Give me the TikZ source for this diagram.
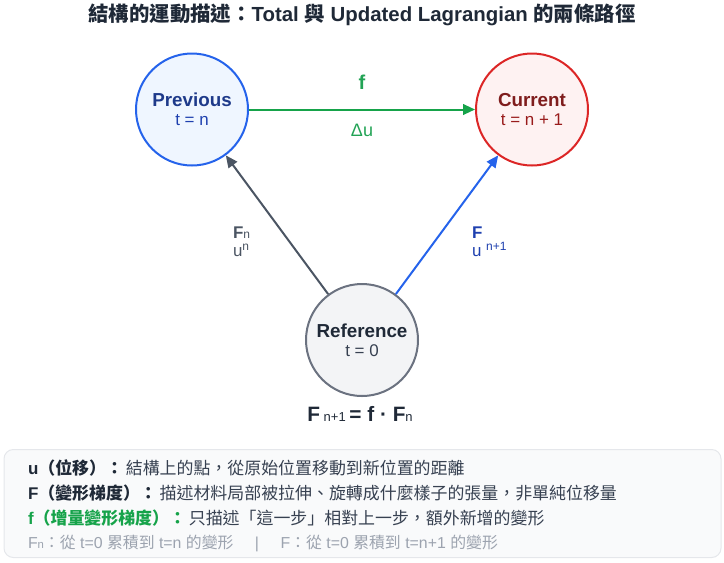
\documentclass[tikz,border=0pt]{standalone}
\usepackage{fontspec}
\setmainfont{Liberation Sans}
\newfontfamily\cjk{Noto Sans CJK TC}
\usetikzlibrary{arrows.meta}
\newcommand\zh[1]{{\cjk #1}}
\newcommand\fsz[1]{\fontsize{#1}{#1}\selectfont}
\definecolor{titlec}{HTML}{1F2937}
\definecolor{bodyc}{HTML}{374151}
\definecolor{prevfill}{HTML}{EFF6FF}
\definecolor{prevline}{HTML}{2563EB}
\definecolor{prevtext}{HTML}{1E3A8A}
\definecolor{prevsub}{HTML}{1E40AF}
\definecolor{curfill}{HTML}{FEF2F2}
\definecolor{curline}{HTML}{DC2626}
\definecolor{curtext}{HTML}{7F1D1D}
\definecolor{cursub}{HTML}{991B1B}
\definecolor{reffill}{HTML}{F3F4F6}
\definecolor{refline}{HTML}{6B7280}
\definecolor{grayarrow}{HTML}{4B5563}
\definecolor{greenline}{HTML}{16A34A}
\definecolor{greenlab}{HTML}{22A355}
\definecolor{bluelab}{HTML}{1E40AF}
\definecolor{legfill}{HTML}{F9FAFB}
\definecolor{legline}{HTML}{E5E7EB}
\definecolor{lightgray}{HTML}{9CA3AF}
\tikzset{
  circ/.style={circle, minimum size=84pt, inner sep=0pt, line width=1.5pt, align=center},
  arr/.style={line width=1.5pt, -{Triangle[length=9pt,width=8pt]}},
  txt/.style={inner sep=0pt, outer sep=0pt},
  legendbox/.style={draw=legline, fill=legfill, line width=0.75pt, rounded corners=7pt, inner sep=0pt}
}
\begin{document}
\begin{tikzpicture}[x=0.75pt, y=-0.75pt]
\useasboundingbox (0,0) rectangle (724,562);
% title
\node[txt, anchor=base, text=titlec] (title) at (362,21.5)
  {\bfseries\fsz{15.3}\zh{結構的運動描述：}Total \zh{與} Updated Lagrangian \zh{的兩條路徑}};
% circles
\node[circ, draw=prevline, fill=prevfill] (prev) at (192,109.5)
  {{\color{prevtext}\bfseries\fsz{14.1}Previous}\\[2.5pt]{\color{prevsub}\fsz{12.7}t = n}};
\node[circ, draw=curline, fill=curfill] (cur) at (532,109.5)
  {{\color{curtext}\bfseries\fsz{14.1}Current}\\[2.5pt]{\color{cursub}\fsz{12.7}t = n + 1}};
\node[circ, draw=refline, fill=reffill] (ref) at (362,340)
  {{\color{titlec}\bfseries\fsz{14.1}Reference}\\[2.5pt]{\color{bodyc}\fsz{12.7}t = 0}};
% arrows
\draw[arr, greenline] (prev) -- (cur);
\draw[arr, grayarrow] (ref) -- (prev);
\draw[arr, prevline] (ref) -- (cur);
% arrow labels
\node[txt, text=greenlab] (flabel) at (362,82) {\bfseries\fsz{15}f};
\node[txt, text=greenlab] (dulabel) at (362,130) {\fsz{13.5}Δu};
\node[txt, anchor=base west, text=grayarrow] (fnlabel) at (233,238)
  {{\bfseries\fsz{12.7}F}{\fsz{9}n}};
\node[txt, anchor=base west, text=grayarrow] (unlabel) at (233,256)
  {{\fsz{12.7}u}\raisebox{4.5pt}{\fsz{9}n}};
\node[txt, anchor=base west, text=bluelab] (Flabel) at (472,238)
  {\bfseries\fsz{12.7}F};
\node[txt, anchor=base west, text=bluelab] (ulabel) at (472,256)
  {\fsz{12.7}u \raisebox{4.5pt}{\fsz{9}n+1}};
% formula
\node[txt, anchor=base, text=titlec] (formula) at (360,421)
  {{\bfseries\fsz{15.6}F} {\fsz{9.75}n+1} {\bfseries\fsz{15.6}= f · F}{\fsz{9.75}n}};
% legend
\node[legendbox, minimum width=537.75pt, minimum height=81pt] (legend) at (362.5,503.5) {};
\node[txt, anchor=base west] (leg1) at (28,474.5)
  {\fsz{12.7}{\color{titlec}\bfseries u\zh{（位移）：}}\,{\color{bodyc}\zh{結構上的點，從原始位置移動到新位置的距離}}};
\node[txt, anchor=base west] (leg2) at (28,499.5)
  {\fsz{12.7}{\color{titlec}\bfseries F\zh{（變形梯度）：}}\,{\color{bodyc}\zh{描述材料局部被拉伸、旋轉成什麼樣子的張量，非單純位移量}}};
\node[txt, anchor=base west] (leg3) at (28,524.5)
  {\fsz{12.7}{\color{greenline}\bfseries f\zh{（增量變形梯度）：}}\,{\color{bodyc}\zh{只描述「這一步」相對上一步，額外新增的變形}}};
\node[txt, anchor=base west, text=lightgray] (leg4) at (28,548.5)
  {\fsz{11.9}F{\fsz{8.5}n}\zh{：從} t=0 \zh{累積到} t=n \zh{的變形}\hspace{1.35em}|\hspace{1.35em}F\zh{：從} t=0 \zh{累積到} t=n+1 \zh{的變形}};
\end{tikzpicture}
\end{document}
